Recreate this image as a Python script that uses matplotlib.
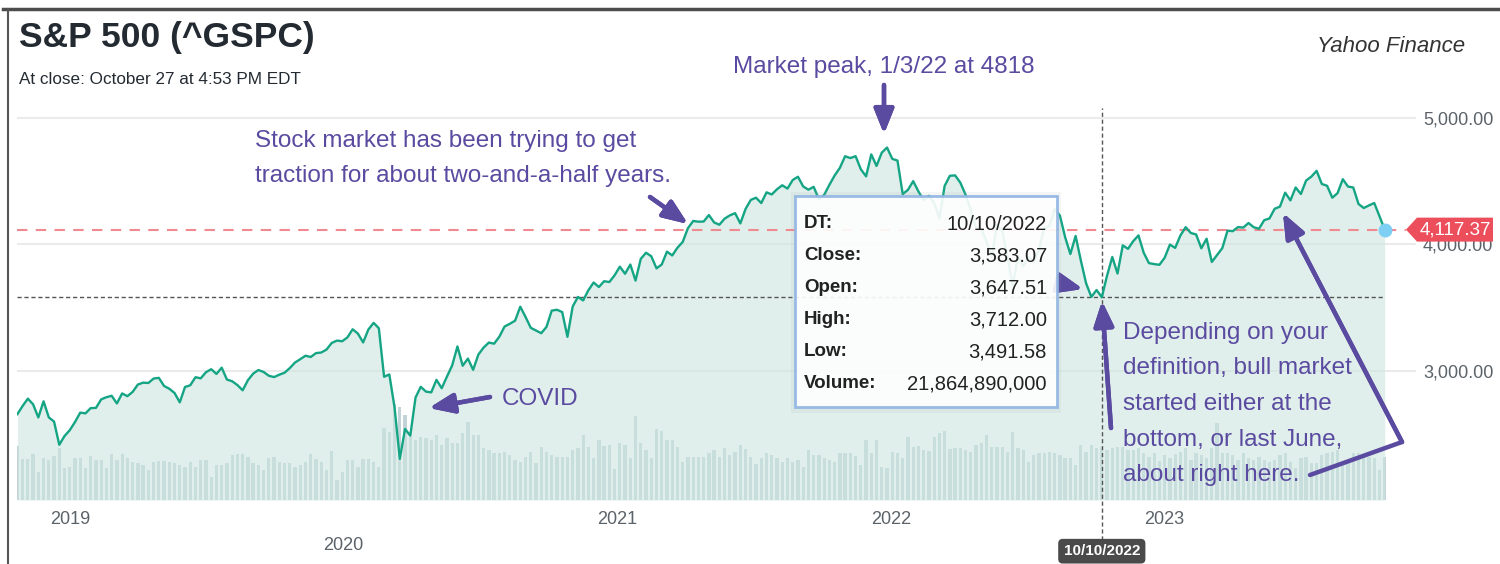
import numpy as np
import pandas as pd
import matplotlib
matplotlib.use("Agg")
import matplotlib.pyplot as plt
import matplotlib.dates as mdates
from matplotlib.patches import Rectangle, Polygon
from matplotlib.lines import Line2D
from matplotlib.transforms import IdentityTransform

plt.rcParams["font.family"] = ["Liberation Sans", "DejaVu Sans"]

# Weekly S&P 500 closes (week starting Monday)
first_week = "2018-10-22"
close_2018 = [2658.7, 2723.1, 2781.0, 2736.3, 2632.6, 2760.2, 2633.1, 2600.0, 2416.6, 2485.7]
close_2019 = [2531.9, 2596.3, 2670.7, 2664.8, 2706.5, 2707.9, 2775.6, 2792.7, 2803.7, 2743.1,
              2822.5, 2800.7, 2834.4, 2892.7, 2907.4, 2905.0, 2939.9, 2945.6, 2881.4, 2859.5,
              2826.1, 2752.1, 2873.3, 2887.0, 2950.5, 2941.8, 2990.4, 3013.8, 2976.6, 3025.9,
              2932.1, 2918.7, 2888.7, 2847.1, 2926.5, 2978.7, 3007.4, 2992.1, 2961.8, 2952.0,
              2970.3, 2986.2, 3022.6, 3066.9, 3093.1, 3120.5, 3110.3, 3141.0, 3145.9, 3168.8,
              3221.2, 3240.0]
close_2020 = [3234.9, 3265.4, 3329.6, 3295.5, 3225.5, 3327.7, 3380.2, 3337.8, 2954.2, 2972.4,
              2711.0, 2304.9, 2541.5, 2488.7, 2789.8, 2874.6, 2836.7, 2830.7, 2929.8, 2863.7,
              2955.5, 3044.3, 3193.9, 3041.3, 3097.7, 3009.1, 3130.0, 3185.0, 3224.7, 3215.6,
              3271.1, 3351.3, 3372.9, 3397.2, 3508.0, 3427.0, 3341.0, 3319.5, 3298.5, 3348.4,
              3477.1, 3483.8, 3465.4, 3270.0, 3509.4, 3585.2, 3557.5, 3638.4, 3699.1, 3663.5,
              3709.4, 3703.1, 3756.1]
close_2021 = [3824.7, 3768.3, 3841.5, 3714.2, 3886.8, 3934.8, 3906.7, 3811.2, 3841.9, 3943.3,
              3913.1, 3974.5, 4019.9, 4128.8, 4185.5, 4180.2, 4181.2, 4232.6, 4173.9, 4155.9,
              4204.1, 4229.9, 4247.4, 4166.5, 4280.7, 4352.3, 4369.6, 4327.2, 4411.8, 4395.3,
              4436.5, 4468.0, 4441.7, 4509.4, 4535.4, 4458.6, 4433.0, 4455.5, 4357.0, 4391.3,
              4471.4, 4544.9, 4605.4, 4697.5, 4682.9, 4698.0, 4594.6, 4538.4, 4712.0, 4620.6,
              4725.8, 4766.2]
close_2022 = [4677.0, 4662.9, 4397.9, 4431.9, 4500.5, 4418.6, 4348.9, 4384.7, 4328.9, 4204.3,
              4463.1, 4543.1, 4545.9, 4488.3, 4392.6, 4271.8, 4131.9, 4123.3, 4023.9, 3901.4,
              4158.2, 4108.5, 3900.9, 3674.8, 3911.7, 3825.3, 3899.4, 3863.2, 3961.6, 4130.3,
              4145.2, 4280.2, 4228.5, 4057.7, 3924.3, 4067.4, 3873.3, 3693.2, 3585.6, 3639.7,
              3583.07, 3752.8, 3901.1, 3770.6, 3992.9, 3965.3, 4026.1, 4071.7, 3934.4, 3852.4,
              3844.8, 3839.5]
close_2023 = [3895.1, 3999.1, 3972.6, 4070.6, 4136.5, 4090.5, 4079.1, 3970.0, 4045.6, 3861.6,
              3916.6, 3971.0, 4109.3, 4105.0, 4137.6, 4133.5, 4169.5, 4136.3, 4124.1, 4192.0,
              4205.5, 4282.4, 4298.9, 4409.6, 4348.3, 4450.4, 4399.0, 4505.4, 4536.3, 4582.2,
              4478.0, 4464.1, 4369.7, 4405.7, 4515.8, 4457.5, 4450.3, 4320.1, 4288.1, 4308.5,
              4327.8, 4224.2, 4117.37]

# Weekly volume, billions of shares
vol_2018 = [22.3, 16.9, 16.9, 19.0, 11.6, 17.4, 16.5, 18.2, 21.5, 13.2]
vol_2019 = [13.6, 17.4, 17.4, 13.2, 18.2, 16.5, 16.5, 13.2, 19.0, 16.5, 19.0, 17.4, 15.7,
            15.3, 14.5, 12.4, 15.7, 16.1, 16.1, 15.7, 15.3, 14.5, 13.6, 15.7, 13.6, 16.5,
            16.5, 9.5, 14.5, 14.5, 15.3, 18.6, 19.0, 19.0, 17.8, 15.3, 14.5, 12.4, 17.4,
            17.8, 15.7, 15.3, 15.3, 13.6, 14.5, 15.7, 19.0, 16.9, 15.7, 12.4, 20.2, 8.3]
vol_2020 = [11.6, 16.5, 16.5, 13.6, 16.9, 16.9, 15.7, 13.6, 29.8, 28.1, 39.7, 38.4, 35.1,
            26.0, 24.8, 26.0, 25.6, 24.8, 26.9, 22.7, 25.6, 23.6, 23.6, 27.7, 32.2, 26.9,
            26.9, 21.5, 20.7, 19.4, 19.4, 19.8, 18.6, 16.5, 15.7, 17.8, 19.8, 15.3, 21.9,
            19.8, 18.6, 17.8, 17.8, 17.8, 20.7, 21.5, 26.9, 21.9, 17.4, 24.8, 22.3, 22.7, 12.8]
vol_2021 = [23.6, 22.7, 17.4, 34.7, 23.6, 20.7, 17.4, 29.3, 28.5, 24.8, 24.8, 21.9, 15.7,
            17.8, 17.8, 17.8, 17.8, 19.4, 20.7, 17.8, 21.5, 18.6, 19.8, 22.7, 21.1, 17.8,
            14.9, 17.4, 19.4, 18.6, 17.4, 15.7, 17.4, 15.7, 16.5, 13.6, 20.7, 18.6, 18.6,
            17.4, 16.5, 15.7, 19.4, 19.4, 19.4, 18.2, 14.5, 24.8, 19.4, 24.8, 13.6, 13.2]
vol_2022 = [19.8, 19.4, 17.4, 26.0, 21.9, 22.3, 20.7, 20.2, 26.0, 27.7, 28.5, 21.1, 21.5,
            21.5, 20.7, 19.8, 22.7, 23.6, 26.9, 21.9, 21.9, 21.9, 19.8, 28.1, 21.5, 20.7,
            15.7, 18.6, 19.4, 19.4, 19.8, 19.4, 18.6, 17.4, 17.4, 14.5, 22.7, 19.8, 22.7,
            21.5, 21.86, 20.7, 21.5, 21.9, 21.9, 20.7, 20.7, 21.5, 19.4, 17.8, 19.4, 16.0]
vol_2023 = [18.6, 17.4, 19.0, 19.8, 21.5, 16.5, 19.4, 18.6, 17.4, 21.5, 31.8, 19.4, 19.4,
            18.6, 16.5, 19.4, 17.4, 16.5, 17.8, 16.5, 15.7, 16.5, 18.6, 19.4, 15.7, 13.2,
            17.4, 17.8, 15.3, 15.3, 18.6, 19.4, 19.8, 20.7, 15.3, 15.7, 19.4, 19.4, 18.6,
            17.8, 17.4, 12.4, 17.8]

# Hover tooltip (week of 10/10/2022)
sel_week = "2022-10-10"
sel_open, sel_high, sel_low = 3647.51, 3712.00, 3491.58
sel_volume = 21864890000

year_ticks = ["2019", "2021", "2022", "2023"]
year_ticks_low = ["2020"]
price_ticks = [3000, 4000, 5000]

close = np.array(close_2018 + close_2019 + close_2020 + close_2021 + close_2022 + close_2023)
volume = np.array(vol_2018 + vol_2019 + vol_2020 + vol_2021 + vol_2022 + vol_2023)
dates = pd.date_range(first_week, periods=len(close), freq="7D")
sel = dates.get_loc(pd.Timestamp(sel_week))

W, H = 1500, 564
fig = plt.figure(figsize=(W / 100, H / 100), dpi=100)


def fx(x):
    return x / W


def fy(y):
    return 1 - y / H


def px(x, y):
    # pixel position (from top left) -> display coords
    return (x, H - y)


pos = [fx(17), fy(500), (1416 - 17) / W, 400 / H]
axv = fig.add_axes(pos)
ax = fig.add_axes(pos, sharex=axv)
ax.patch.set_alpha(0)

x0 = mdates.date2num(dates[0]) - 0.5
ax.set_xlim(x0, x0 + 1399 / 0.7484)
ax.set_ylim(1980, 5142)
axv.set_ylim(0, 165)

# volume
axv.bar(dates, volume, width=4.4, color="#c2d3d8", linewidth=0)
axv.set_axis_off()

# price
ax.fill_between(dates, close, 1980, color="#cde6df", alpha=0.62, linewidth=0)
ax.plot(dates, close, color="#15a585", lw=1.7, zorder=3)
ax.plot(dates[-1], close[-1], "o", ms=9, color="#7dcff4", zorder=4)

ax.grid(axis="y", color="#ebebeb", lw=1.5)
ax.set_axisbelow(True)
for s in ax.spines.values():
    s.set_visible(False)

ax.yaxis.tick_right()
ax.set_yticks(price_ticks, labels=[f"{v:,.2f}" for v in price_ticks])
ax.tick_params(axis="y", length=0, pad=5, labelsize=13, labelcolor="#5b636a")
ax.set_xticks([pd.Timestamp(f"{y}-01-01") for y in year_ticks], labels=year_ticks)
ax.set_xticks([pd.Timestamp(f"{y}-01-01") for y in year_ticks_low], labels=year_ticks_low, minor=True)
ax.tick_params(axis="x", which="major", length=0, pad=8, labelsize=13, labelcolor="#5b636a")
ax.tick_params(axis="x", which="minor", length=0, pad=27, labelsize=13, labelcolor="#5b636a")

# reference lines
ax.axhline(close[-1], xmin=0, xmax=(1406 - 17) / 1399, color="#f08a90", lw=1.5,
           dashes=(5, 4), zorder=2)
ax.hlines(close[sel], dates[0], dates[-1], color="#555555", lw=1, linestyles=(0, (3, 2)), zorder=2)
ax.axvline(dates[sel], ymin=-0.1, ymax=0.98, color="#555555", lw=1, linestyle=(0, (3, 2)),
           clip_on=False, zorder=2)
ax.text(dates[sel], -0.128, dates[sel].strftime("%m/%d/%Y"), transform=ax.get_xaxis_transform(),
        ha="center", va="center", color="white", fontsize=11, fontweight="bold",
        bbox=dict(boxstyle="round,pad=0.35,rounding_size=0.3", fc="#4a4a4a", ec="none"))

# last price tag
yc = ax.transData.transform((0, close[-1]))[1]
tag = Polygon([(1406, yc), (1417, yc + 12), (1493, yc + 12), (1493, yc - 12), (1417, yc - 12)],
              closed=True, transform=IdentityTransform(), fc="#ec4f5b", ec="none", zorder=6)
fig.add_artist(tag)
fig.text(fx(1455), yc / H, f"{close[-1]:,.2f}", ha="center", va="center", color="white",
         fontsize=13.5, zorder=7)

# tooltip
fig.add_artist(Rectangle(px(791, 413), 270, 221, transform=IdentityTransform(),
                         fc="#9aa5a5", ec="none", alpha=0.10, zorder=4))
fig.add_artist(Rectangle(px(795, 407), 262, 211, transform=IdentityTransform(),
                         fc="white", ec="#8fb4e2", lw=2, alpha=0.9, zorder=5))
rows = [("DT:", dates[sel].strftime("%m/%d/%Y")),
        ("Close:", f"{close[sel]:,.2f}"),
        ("Open:", f"{sel_open:,.2f}"),
        ("High:", f"{sel_high:,.2f}"),
        ("Low:", f"{sel_low:,.2f}"),
        ("Volume:", f"{sel_volume:,}")]
for k, (lab, val) in enumerate(rows):
    y = 224 + k * 32
    fig.text(fx(804), fy(y), lab, ha="left", va="center", fontsize=13.5, fontweight="bold",
             color="#222222", zorder=6)
    fig.text(fx(1047), fy(y), val, ha="right", va="center", fontsize=14.5,
             color="#222222", zorder=6)

# titles
fig.text(fx(19), fy(38), "S&P 500 (^GSPC)", ha="left", va="center", fontsize=25.5,
         fontweight="bold", color="#232a31")
fig.text(fx(19), fy(80), "At close: October 27 at 4:53 PM EDT", ha="left", va="center",
         fontsize=12.3, color="#232a31")
fig.text(fx(1465), fy(46), "Yahoo Finance", ha="right", va="center", fontsize=16,
         style="italic", color="#333333")

# annotations
purple = "#5a4aa0"
fig.text(fx(733), fy(67), "Market peak, 1/3/22 at 4818", ha="left", va="center",
         fontsize=17.5, color=purple)
fig.text(fx(255), fy(158.5), "Stock market has been trying to get\ntraction for about two-and-a-half years.",
         ha="left", va="center", fontsize=17.5, color=purple, linespacing=1.8)
fig.text(fx(502), fy(399), "COVID", ha="left", va="center", fontsize=17.5, color=purple)
fig.text(fx(1123), fy(404), "Depending on your\ndefinition, bull market\nstarted either at the\n"
         "bottom, or last June,\nabout right here.", ha="left", va="center", fontsize=17.5,
         color=purple, linespacing=1.8)

arrow = dict(arrowstyle="-|>,head_length=1.5,head_width=0.6", color=purple, lw=3.2,
             shrinkA=0, shrinkB=0, mutation_scale=10)
for tail, tip in [((884, 85), (884, 134)),
                  ((650, 197), (688, 224)),
                  ((490, 397), (429, 408)),
                  ((1058, 283), (1083, 289)),
                  ((1111, 428), (1102, 301)),
                  ((1402, 442), (1283, 213))]:
    fig.add_artist(plt.annotate("", xy=px(*tip), xytext=px(*tail), xycoords="figure pixels",
                                textcoords="figure pixels", arrowprops=arrow))
fig.add_artist(Line2D([fx(1310), fx(1402)], [fy(475), fy(442)], color=purple, lw=3.2,
                      solid_capstyle="round"))

# frame
fig.add_artist(Line2D([fx(3), 1], [fy(9), fy(9)], color="#4d4d4d", lw=2.5))
fig.add_artist(Line2D([fx(8), fx(8)], [fy(9), 0], color="#555555", lw=1.5))

fig.savefig("out.png", dpi=100)
